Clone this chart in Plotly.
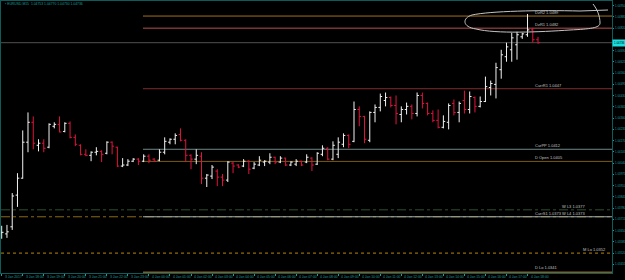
import plotly.graph_objects as go
import pandas as pd

symbol = "EURUSD,M15"
bar_start = "2017-01-03 17:00"

open_ = [1.03637, 1.03631, 1.03672, 1.03855, 1.03953, 1.04161, 1.04276, 1.04143, 1.04155, 1.04132,
         1.04253, 1.04264, 1.04223, 1.04270, 1.04189, 1.04143, 1.04091, 1.04085, 1.04103, 1.04108,
         1.04097, 1.04161, 1.04132, 1.04023, 1.04029, 1.04051, 1.04063, 1.04051, 1.04080, 1.04063,
         1.04057, 1.04103, 1.04161, 1.04178, 1.04206, 1.04172, 1.04085, 1.04063, 1.04080, 1.03953,
         1.03965, 1.03994, 1.03959, 1.03942, 1.04040, 1.04029, 1.04023, 1.04051, 1.04011, 1.04029,
         1.04046, 1.04046, 1.04074, 1.04046, 1.04069, 1.04029, 1.04034, 1.04051, 1.04046, 1.04069,
         1.04034, 1.04091, 1.04126, 1.04063, 1.04091, 1.04149, 1.04200, 1.04166, 1.04350, 1.04310,
         1.04172, 1.04333, 1.04362, 1.04402, 1.04419, 1.04373, 1.04321, 1.04350, 1.04368, 1.04327,
         1.04431, 1.04385, 1.04327, 1.04287, 1.04247, 1.04276, 1.04385, 1.04333, 1.04402, 1.04350,
         1.04419, 1.04368, 1.04396, 1.04477, 1.04495, 1.04580, 1.04655, 1.04695, 1.04724, 1.04770,
         1.04782, 1.04810, 1.04753]
high = [1.03678, 1.03683, 1.03867, 1.03982, 1.04229, 1.04333, 1.04310, 1.04178, 1.04178, 1.04270,
        1.04276, 1.04310, 1.04276, 1.04281, 1.04206, 1.04149, 1.04120, 1.04108, 1.04132, 1.04114,
        1.04166, 1.04166, 1.04135, 1.04069, 1.04063, 1.04069, 1.04069, 1.04091, 1.04091, 1.04069,
        1.04120, 1.04189, 1.04183, 1.04212, 1.04241, 1.04178, 1.04091, 1.04120, 1.04103, 1.03977,
        1.04029, 1.04005, 1.03977, 1.04051, 1.04046, 1.04034, 1.04063, 1.04057, 1.04046, 1.04080,
        1.04057, 1.04097, 1.04077, 1.04080, 1.04071, 1.04051, 1.04063, 1.04054, 1.04091, 1.04074,
        1.04103, 1.04143, 1.04132, 1.04166, 1.04189, 1.04212, 1.04206, 1.04396, 1.04368, 1.04313,
        1.04339, 1.04379, 1.04442, 1.04448, 1.04425, 1.04431, 1.04368, 1.04390, 1.04379, 1.04448,
        1.04448, 1.04390, 1.04345, 1.04350, 1.04316, 1.04385, 1.04408, 1.04396, 1.04459, 1.04454,
        1.04425, 1.04425, 1.04540, 1.04517, 1.04620, 1.04695, 1.04736, 1.04793, 1.04799, 1.04793,
        1.04902, 1.04822, 1.04770]
low = [1.03603, 1.03608, 1.03654, 1.03787, 1.03950, 1.04103, 1.04120, 1.04108, 1.04103, 1.04126,
       1.04241, 1.04218, 1.04218, 1.04183, 1.04138, 1.04085, 1.04080, 1.04051, 1.04085, 1.04046,
       1.04091, 1.04091, 1.04017, 1.04017, 1.04023, 1.04046, 1.04029, 1.04046, 1.04040, 1.04046,
       1.04051, 1.04091, 1.04149, 1.04149, 1.04166, 1.04046, 1.04005, 1.04034, 1.03919, 1.03902,
       1.03948, 1.03907, 1.03907, 1.03931, 1.03982, 1.04011, 1.04017, 1.03977, 1.04005, 1.04023,
       1.04023, 1.04034, 1.04034, 1.04040, 1.04023, 1.04023, 1.04023, 1.04023, 1.04040, 1.03994,
       1.04029, 1.04080, 1.04057, 1.04057, 1.04069, 1.04132, 1.04126, 1.04161, 1.04253, 1.04155,
       1.04161, 1.04276, 1.04339, 1.04368, 1.04362, 1.04264, 1.04276, 1.04321, 1.04293, 1.04310,
       1.04356, 1.04316, 1.04276, 1.04241, 1.04241, 1.04235, 1.04316, 1.04276, 1.04327, 1.04327,
       1.04333, 1.04362, 1.04393, 1.04431, 1.04414, 1.04528, 1.04626, 1.04626, 1.04638, 1.04758,
       1.04770, 1.04736, 1.04730]
close = [1.03640, 1.03643, 1.03850, 1.03953, 1.04161, 1.04276, 1.04155, 1.04155, 1.04126, 1.04264,
         1.04264, 1.04220, 1.04270, 1.04189, 1.04149, 1.04091, 1.04085, 1.04103, 1.04108, 1.04091,
         1.04161, 1.04138, 1.04023, 1.04029, 1.04051, 1.04063, 1.04051, 1.04080, 1.04057, 1.04051,
         1.04103, 1.04166, 1.04178, 1.04200, 1.04172, 1.04085, 1.04063, 1.04085, 1.03953, 1.03971,
         1.04017, 1.03959, 1.03942, 1.04046, 1.04023, 1.04017, 1.04051, 1.04005, 1.04034, 1.04057,
         1.04051, 1.04074, 1.04046, 1.04069, 1.04029, 1.04046, 1.04051, 1.04029, 1.04074, 1.04029,
         1.04097, 1.04126, 1.04063, 1.04143, 1.04161, 1.04200, 1.04149, 1.04350, 1.04310, 1.04178,
         1.04333, 1.04362, 1.04425, 1.04419, 1.04373, 1.04327, 1.04350, 1.04368, 1.04327, 1.04431,
         1.04385, 1.04327, 1.04287, 1.04247, 1.04281, 1.04373, 1.04333, 1.04385, 1.04350, 1.04425,
         1.04368, 1.04396, 1.04482, 1.04500, 1.04592, 1.04666, 1.04712, 1.04764, 1.04782, 1.04787,
         1.04810, 1.04753, 1.04736]

x_tick_labels = ["3 Jan 2017", "3 Jan 18:00", "3 Jan 19:00", "3 Jan 20:00", "3 Jan 21:00",
                 "3 Jan 22:00", "3 Jan 23:00", "4 Jan 00:00", "4 Jan 01:00", "4 Jan 02:00",
                 "4 Jan 03:00", "4 Jan 04:00", "4 Jan 05:00", "4 Jan 06:00", "4 Jan 07:00",
                 "4 Jan 08:00", "4 Jan 09:00", "4 Jan 10:00", "4 Jan 11:00", "4 Jan 12:00",
                 "4 Jan 13:00", "4 Jan 14:00", "4 Jan 15:00", "4 Jan 16:00", "4 Jan 17:00",
                 "4 Jan 18:00"]
y_tick_values = [1.04950, 1.04885, 1.04820, 1.04690, 1.04625, 1.04560, 1.04495,
                 1.04430, 1.04365, 1.04300, 1.04235, 1.04170, 1.04105, 1.04040, 1.03975,
                 1.03910, 1.03845, 1.03780, 1.03715, 1.03650, 1.03585, 1.03520, 1.03455]

# levels drawn from the start of the current day
day_level_names = ["DzR2", "DzR1", "CurrR1", "CurPP", "D Open", "CurrS1", "D Lo"]
day_level_values = [1.0489, 1.0482, 1.0447, 1.0412, 1.0405, 1.0373, 1.0341]
# levels drawn across the whole chart
wide_level_names = ["W L3", "W L4", "M Lo"]
wide_level_values = [1.0377, 1.0373, 1.0352]

# ---------------- styling / geometry ----------------
W, H = 625, 280
PL, PR, PT, PB = 1, 612, 1, 273          # plot area in px
TEAL = "#1f9c9c"
FRAME = "#0d5c5c"
LABEL = "#c0c0c0"
FONT = "Liberation Sans"

times = pd.date_range(bar_start, periods=len(close), freq="15min")
t0 = times[0]
x_lo = t0 - pd.Timedelta(minutes=2)
x_hi = t0 + pd.Timedelta(minutes=1741)
day_line_start = pd.Timestamp("2017-01-03 23:43")
y_lo, y_hi = 1.03405, 1.04977
x_tick_times = list(times[::4][:len(x_tick_labels)])


def pxp(x, y):
    return (x - PL) / (PR - PL), (PB - y) / (PB - PT)


fig = go.Figure()
fig.add_trace(go.Ohlc(
    x=times, open=open_, high=high, low=low, close=close,
    increasing=dict(line=dict(color="#f2f2f2", width=1)),
    decreasing=dict(line=dict(color="#e0143c", width=1)),
    tickwidth=0.35, hoverinfo="skip", showlegend=False,
))

shapes = []
annotations = []

day_colors = ["#a0721c", "#b5514b", "#7e2c2c", "#6f8888", "#7d5c16", "#9fb0b0", "#8b5a1e"]
day_widths = [1, 1, 1, 1, 1, 1, 1.5]
for name, val, col, w in zip(day_level_names, day_level_values, day_colors, day_widths):
    shapes.append(dict(type="line", xref="x", yref="y", x0=day_line_start, x1=x_hi,
                       y0=val, y1=val, line=dict(color=col, width=w), layer="below"))
    annotations.append(dict(xref="paper", yref="y", x=pxp(533, 0)[0], y=val,
                            text=f"{name} {val:.4f}", showarrow=False, xanchor="left",
                            yanchor="bottom", yshift=-1 if name != "D Lo" else 0,
                            font=dict(size=4, color=LABEL, family=FONT)))

wide_colors = ["#2f4f2f", "#8b6914", "#b8860b"]
wide_dash = ["dashdot", "dashdot", "dot"]
wide_xlabel = [560, 560, 581]
for name, val, col, d, xl in zip(wide_level_names, wide_level_values, wide_colors, wide_dash, wide_xlabel):
    shapes.append(dict(type="line", xref="paper", yref="y", x0=0, x1=1, y0=val, y1=val,
                       line=dict(color=col, width=1, dash=d), layer="below"))
    annotations.append(dict(xref="paper", yref="y", x=pxp(xl, 0)[0], y=val,
                            text=f"{name} {val:.4f}", showarrow=False, xanchor="left",
                            yanchor="bottom", yshift=-1,
                            font=dict(size=4, color=LABEL, family=FONT)))

# bid line
shapes.append(dict(type="line", xref="paper", yref="y", x0=0, x1=1, y0=close[-1], y1=close[-1],
                   line=dict(color="#505050", width=1), layer="below"))

# hand-drawn ellipse
pts = [("M", [(608, 10)]), ("L", [(580, 11)]),
       ("C", [(540, 10), (490, 11), (472, 15)]),
       ("C", [(462, 18), (462, 27), (476, 29)]),
       ("C", [(496, 34), (540, 32), (570, 30)]),
       ("C", [(590, 29), (600, 28), (600, 23)]),
       ("C", [(600, 16), (597, 9), (593, 4)])]
path = ""
for cmd, plist in pts:
    path += cmd + " " + " ".join(f"{pxp(a, b)[0]:.4f},{pxp(a, b)[1]:.4f}" for a, b in plist) + " "
shapes.append(dict(type="path", xref="paper", yref="paper", path=path.strip(),
                   line=dict(color="#c4c4c4", width=1)))

# axis labels (drawn as annotations on the axes' scales so they sit tight to the frame)
for t, lab in zip(x_tick_times, x_tick_labels):
    annotations.append(dict(xref="x", yref="paper", x=t, y=pxp(0, 276.5)[1], text=lab,
                            showarrow=False, xanchor="left", yanchor="middle", xshift=1,
                            font=dict(size=3.4, color=TEAL, family=FONT)))
for v in y_tick_values:
    annotations.append(dict(xref="paper", yref="y", x=1, y=v, text=f"{v:.5f}",
                            showarrow=False, xanchor="left", yanchor="middle", xshift=1,
                            font=dict(size=2.9, color=TEAL, family=FONT)))

# current price box
annotations.append(dict(xref="paper", yref="y", x=1, y=close[-1], text=f"{close[-1]:.5f}",
                        showarrow=False, xanchor="left", yanchor="middle", xshift=0,
                        bgcolor="#19e0e0", borderpad=1,
                        font=dict(size=2.9, color="#000000", family=FONT)))

# header text
annotations.append(dict(xref="paper", yref="paper", x=pxp(3, 0)[0], y=pxp(0, 4)[1],
                        text=f"\u25aa {symbol}  {open_[-1]:.5f} {high[-1]:.5f} {low[-1]:.5f} {close[-1]:.5f}",
                        showarrow=False, xanchor="left", yanchor="middle",
                        font=dict(size=3.4, color=TEAL, family=FONT)))

fig.update_layout(
    width=W, height=H,
    margin=dict(l=PL, r=W - PR, t=PT, b=H - PB, pad=0),
    paper_bgcolor="#000000", plot_bgcolor="#000000",
    shapes=shapes, annotations=annotations,
    showlegend=False,
    xaxis=dict(type="date", range=[x_lo, x_hi], rangeslider=dict(visible=False),
               showgrid=False, zeroline=False,
               tickvals=x_tick_times, showticklabels=False,
               ticks="outside", ticklen=2, tickcolor=TEAL,
               showline=True, linecolor=FRAME, linewidth=1, mirror=True, automargin=False),
    yaxis=dict(range=[y_lo, y_hi], side="right", showgrid=False, zeroline=False,
               tickvals=y_tick_values, showticklabels=False,
               ticks="outside", ticklen=1, tickcolor=TEAL,
               showline=True, linecolor=FRAME, linewidth=1, mirror=True, automargin=False),
)

fig.write_html("out.html")
